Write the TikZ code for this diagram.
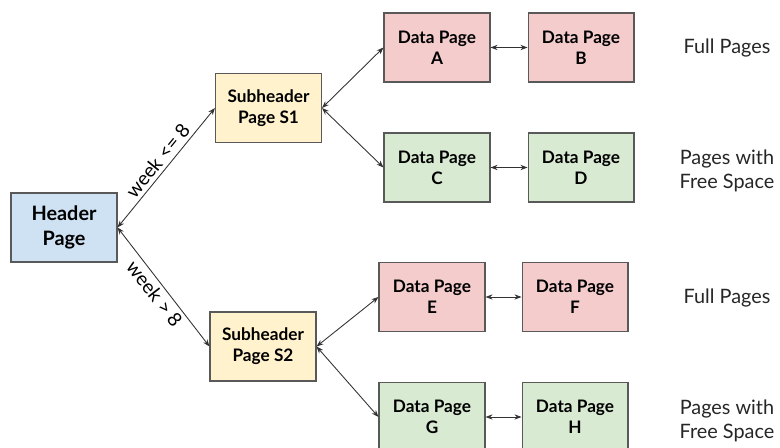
\documentclass[tikz,border=0pt]{standalone}
\usepackage{fontspec}
\setmainfont{Lato}
\usetikzlibrary{arrows.meta, positioning}
\definecolor{hdrblue}{HTML}{CFE2F3}
\definecolor{subyellow}{HTML}{FFF2CC}
\definecolor{fullred}{HTML}{F4CCCC}
\definecolor{freegreen}{HTML}{D9EAD3}
\definecolor{boxgray}{HTML}{595959}
\definecolor{linegray}{HTML}{333333}
\tikzstyle{page} = [rectangle, minimum width=2.12cm, minimum height=1.38cm, align=center, draw=boxgray, line width=0.6pt, font=\bfseries\fontsize{9.8}{12}\selectfont]
\tikzstyle{header} = [page, fill=hdrblue, font=\bfseries\fontsize{11.3}{14}\selectfont]
\tikzstyle{subheader} = [page, fill=subyellow]
\tikzstyle{full} = [page, fill=fullred]
\tikzstyle{free} = [page, fill=freegreen]
\tikzstyle{note} = [align=center, text=black!85, font=\fontsize{11.3}{13.5}\selectfont]
\tikzstyle{link} = [line width=0.5pt, draw=linegray, {Stealth[length=4pt,width=3pt]}-{Stealth[length=4pt,width=3pt]}]
\tikzstyle{cond} = [sloped, inner sep=2pt, font=\fontsize{11}{13}\selectfont]

\begin{document}
\begin{tikzpicture}[x=0.02cm, y=-0.02cm, node distance=0.74cm]
        \useasboundingbox (0,0) rectangle (780,448);
        \node (hdr) [header] at (64,227.5) {Header\\Page};
        \node (s1) [subheader] at (268.5,108) {Subheader\\Page S1};
        \node (s2) [subheader] at (263,346.5) {Subheader\\Page S2};
        \node (pa) [full] at (437,47.5) {Data Page\\A};
        \node (pb) [full, right=of pa] {Data Page\\B};
        \node (pc) [free] at (437,167.5) {Data Page\\C};
        \node (pd) [free, right=of pc] {Data Page\\D};
        \node (pe) [full] at (432,297) {Data Page\\E};
        \node (pf) [full, right=0.72cm of pe] {Data Page\\F};
        \node (pg) [free] at (432,417) {Data Page\\G};
        \node (ph) [free, right=0.72cm of pg] {Data Page\\H};
        \node (n1) [note] at (727,48) {Full Pages};
        \node (n2) [note] at (727,171) {Pages with\\Free Space};
        \node (n3) [note] at (727,298) {Full Pages};
        \node (n4) [note] at (727,421) {Pages with\\Free Space};

        \draw [link] (hdr.east) -- node[cond, above]{week <= 8} (s1.west);
        \draw [link] (hdr.east) -- node[cond, below]{week > 8} (s2.west);
        \draw [link] (s1.east) -- (pa.west);
        \draw [link] (s1.east) -- (pc.west);
        \draw [link] (s2.east) -- (pe.west);
        \draw [link] (s2.east) -- (pg.west);
        \draw [link] (pa) -- (pb);
        \draw [link] (pc) -- (pd);
        \draw [link] (pe) -- (pf);
        \draw [link] (pg) -- (ph);
    \end{tikzpicture}
\end{document}
